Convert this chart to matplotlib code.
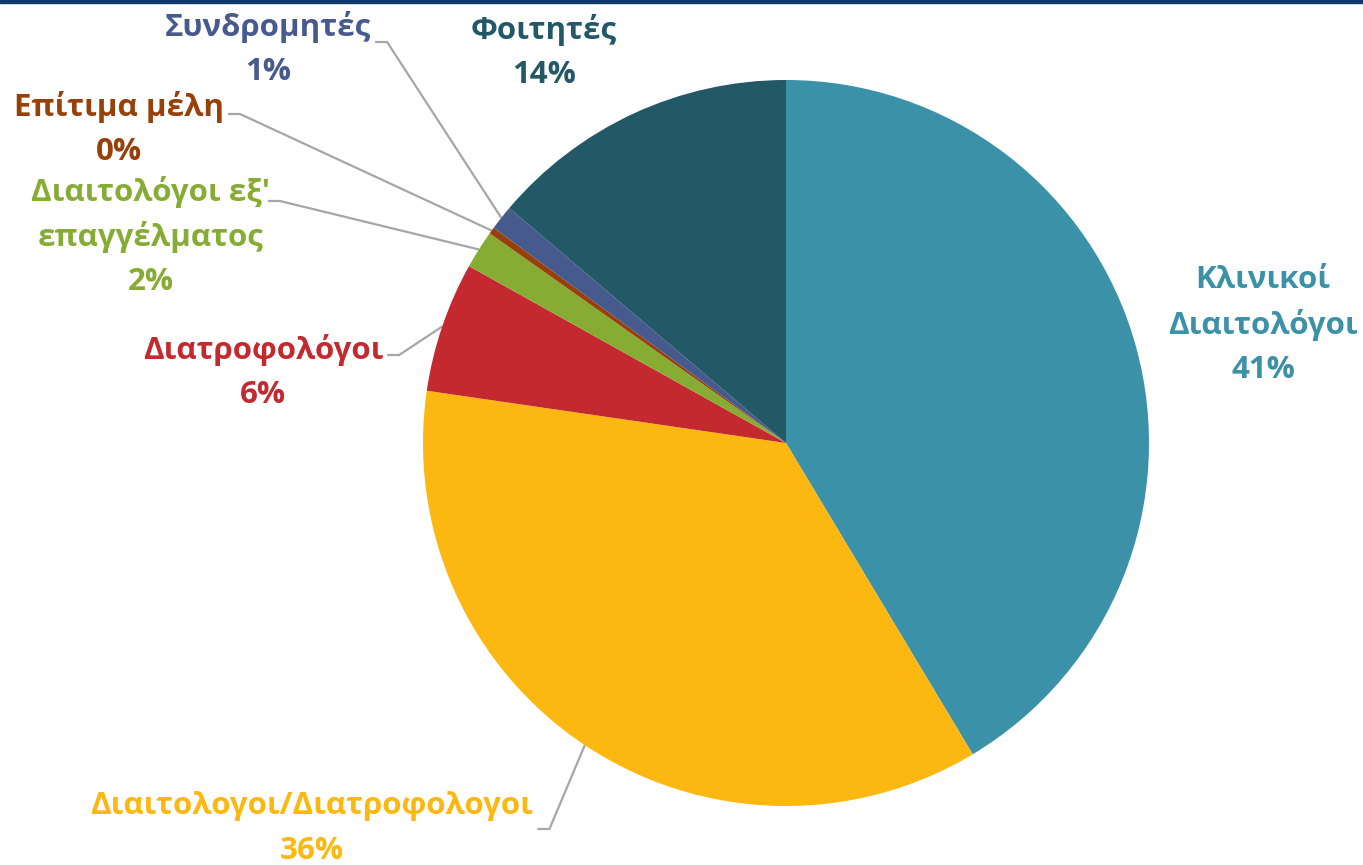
import numpy as np
import matplotlib.pyplot as plt
from matplotlib.patches import Rectangle

categories = ["Κλινικοί\nΔιαιτολόγοι", "Διαιτολογοι/Διατροφολογοι", "Διατροφολόγοι",
              "Διαιτολόγοι εξ'\nεπαγγέλματος", "Επίτιμα μέλη", "Συνδρομητές", "Φοιτητές"]
values = [41.4, 35.9, 5.8, 1.7, 0.3, 1.1, 13.8]
pct_labels = ["41%", "36%", "6%", "2%", "0%", "1%", "14%"]
colors = ["#3A91A8", "#FCB711", "#C3292E", "#86AC34", "#983F0A", "#475A8E", "#235866"]

W, H = 1363, 865
fig = plt.figure(figsize=(W / 100, H / 100), dpi=100)
ax = fig.add_axes([0, 0, 1, 1])

cx, cy, R = 786, H - 443, 363
wedges, _ = ax.pie(values, colors=colors, startangle=90, counterclock=False,
                   center=(cx, cy), radius=R, frame=True,
                   wedgeprops=dict(linewidth=0))
ax.set_xlim(0, W)
ax.set_ylim(0, H)
ax.set_aspect("equal")
ax.axis("off")

# top border band
fig.patches.append(Rectangle((0, 1 - 3 / H), 1, 3 / H, transform=fig.transFigure,
                             color="#0E3A6E", zorder=10))

font = dict(family=["Open Sans", "DejaVu Sans"], fontweight="bold", fontsize=22.5)

# label layout: (x center, first-line y in px from top, leader y in px from top or None)
layout = {
    0: (1263, 280, None),
    1: (312, 806, 829),
    2: (263, 350, 355),
    3: (151, 192, 201),
    4: (119, 107, 114),
    5: (268, 27, 42),
    6: (544, 30, None),
}
line_gap = 45

fig.canvas.draw()
renderer = fig.canvas.get_renderer()

for i, w in enumerate(wedges):
    x, ytop, leady = layout[i]
    name_lines = categories[i].split("\n")
    texts = []
    for k, t in enumerate(name_lines + [pct_labels[i]]):
        texts.append(ax.text(x, H - (ytop + k * line_gap), t, ha="center", va="center",
                             color=colors[i], **font))
    if leady is not None:
        last = texts[len(name_lines) - 1]
        bb = last.get_window_extent(renderer=renderer)
        x0 = ax.transData.inverted().transform((bb.x1, 0))[0] + 4
        mid = np.deg2rad((w.theta1 + w.theta2) / 2)
        ex, ey = cx + R * np.cos(mid), cy + R * np.sin(mid)
        ly = H - leady
        ax.plot([x0, x0 + 12, ex], [ly, ly, ey], color="#A6A6A6", lw=1.6,
                solid_capstyle="butt", zorder=0)

fig.savefig("out.png", dpi=100)
